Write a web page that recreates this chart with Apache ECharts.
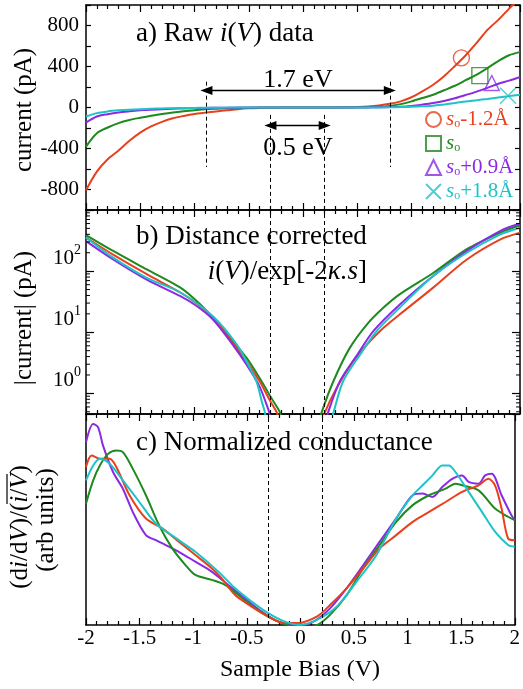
<!DOCTYPE html>
<html><head><meta charset="utf-8">
<script src="https://cdn.jsdelivr.net/npm/echarts@6/dist/echarts.min.js"></script>
<style>html,body{margin:0;padding:0;background:#fff}#c{width:523px;height:689px}</style>
</head><body><div id="c"></div>
<script>
const FONT = '"Liberation Serif","Times New Roman",serif';
const COL = {red:'#e8401c', green:'#1e8a1e', purple:'#8a2be2', cyan:'#1ec3c8'};

// ---------- panel a: raw i(V) ----------
const aV = [-2,-1.9,-1.8,-1.7,-1.6,-1.5,-1.4,-1.3,-1.2,-1.1,-1,-0.9,-0.8,-0.7,-0.6,-0.5,-0.4,-0.3,-0.2,-0.1,0,0.1,0.2,0.3,0.4,0.5,0.6,0.7,0.8,0.9,1,1.1,1.2,1.3,1.4,1.5,1.6,1.7,1.8,1.9,2];
const aRed    = [-807,-625,-505,-420,-325,-245,-185,-140,-105,-82,-63,-50,-38,-27,-16,-8,-4,-2,-1,0,0,0,0,1,2,5,10,20,36,60,100,158,222,305,405,510,630,757,855,965,1070];
const aGreen  = [-382,-251,-195,-152,-122,-100,-80,-63,-48,-36,-26,-17,-12,-8,-5,-3,-1,0,0,0,0,0,0,0,1,2,4,7,15,33,60,92,125,168,212,266,321,385,453,510,540];
const aPurple = [-147,-88,-65,-48,-37,-28,-21,-16,-12,-9,-6,-4,-3,-2,-1,0,0,0,0,0,0,0,0,0,0,0,1,2,4,7,15,28,43,63,90,122,155,192,232,262,298];
const aCyan   = [-88,-55,-38,-28,-21,-16,-12,-9,-7,-5,-4,-3,-2,-1,0,0,0,0,0,0,0,0,0,0,0,0,0,1,2,4,7,12,17,30,44,59,71,84,98,111,125];
const markerV = [1.46, 1.63, 1.74, 1.89];
const markerI = [484, 311, 239, 115];
const legendNames = ['s_o-1.2Å', 's_o', 's_o+0.9Å', 's_o+1.8Å'];
const legendSuffix = ['-1.2Å', '', '+0.9Å', '+1.8Å'];
// annotation positions (V) and heights (pA)
const gapOuter = [-0.89, 0.8];
const gapInner = [-0.3, 0.2];
const outerDashY = [252, -581];
const innerDashY = [-72, -1000];
const outerArrowY = 167;
const innerArrowY = -176;

// ---------- panel b: distance corrected |i| ----------
const bRedV    = [-2,-1.75,-1.44,-1.13,-0.98,-0.83,-0.67,-0.52,-0.40,-0.30,-0.24,-0.20, 0.17,0.20,0.31,0.46,0.59,0.74,0.89,1.2,1.51,1.82,2.0];
const bRed     = [355,186,89,44.7,29.5,17.4,7.6,3.3,1.58,0.74,0.48,0.3, 0.3,0.48,1.23,3.31,6.31,11.7,19.5,53.7,155,331,427];
const bGreenV  = [-2,-1.75,-1.44,-1.13,-0.98,-0.83,-0.67,-0.52,-0.40,-0.29,-0.21,-0.18, 0.14,0.17,0.28,0.43,0.59,0.74,0.89,1.2,1.51,1.82,2.0];
const bGreen   = [389,214,107,53.7,32.4,17.4,8.13,3.8,1.78,0.83,0.48,0.3, 0.3,0.48,1.58,5.5,13.5,25.1,41.7,93.3,229,427,562];
const bPurpleV = [-2,-1.75,-1.44,-1.13,-0.98,-0.83,-0.67,-0.52,-0.40,-0.335,-0.31,-0.29, 0.2,0.23,0.34,0.50,0.65,0.89,1.2,1.51,1.82,2.0];
const bPurple  = [309,155,72.4,38.9,26.9,16.2,7.1,2.95,1.29,0.65,0.48,0.3, 0.3,0.48,1.58,4.27,10.5,28.2,83.2,214,457,603];
const bCyanV   = [-2,-1.75,-1.44,-1.13,-0.83,-0.61,-0.52,-0.43,-0.38,-0.35,-0.33, 0.25,0.28,0.37,0.525,0.68,0.89,1.2,1.51,1.82,2.0];
const bCyan    = [355,166,77.6,44.7,18.2,6.3,3.3,1.58,0.74,0.48,0.3, 0.3,0.48,1.58,4.27,10.5,25.1,83.2,200,398,513];
const logMinor = [0.5,0.6,0.7,0.8,0.9,2,3,4,5,6,7,8,9,20,30,40,50,60,70,80,90,200,300,400,500,600,700,800,900];

// ---------- panel c: normalized conductance ----------
const cPurpleV = [-2,-1.933,-1.887,-1.841,-1.748,-1.656,-1.564,-1.441,-1.348,-1.256,-1.134,-0.98,-0.827,-0.673,-0.519,-0.366,-0.212,-0.058,0,0.126,0.279,0.433,0.587,0.740,0.894,1.048,1.140,1.232,1.324,1.417,1.509,1.570,1.662,1.724,1.785,1.877,1.969,2.0];
const cPurple  = [0.866,0.953,0.937,0.85,0.725,0.646,0.536,0.426,0.402,0.379,0.347,0.30,0.253,0.19,0.127,0.065,0.017,0.0,0.0,0.017,0.08,0.175,0.284,0.395,0.505,0.615,0.623,0.607,0.654,0.693,0.709,0.678,0.67,0.709,0.717,0.615,0.52,0.497];
const cRedV    = [-2,-1.947,-1.871,-1.779,-1.717,-1.594,-1.441,-1.288,-1.134,-0.98,-0.827,-0.735,-0.611,-0.458,-0.304,-0.150,-0.028,0.157,0.279,0.433,0.587,0.740,0.894,1.048,1.201,1.355,1.509,1.662,1.754,1.816,1.877,1.938,2.0];
const cRed     = [0.749,0.803,0.788,0.788,0.749,0.615,0.505,0.458,0.395,0.332,0.269,0.222,0.143,0.088,0.041,0.009,0.009,0.041,0.096,0.175,0.269,0.363,0.426,0.489,0.536,0.583,0.631,0.662,0.693,0.662,0.552,0.41,0.402];
const cGreenV  = [-2,-1.933,-1.871,-1.794,-1.717,-1.656,-1.564,-1.441,-1.318,-1.195,-1.072,-0.98,-0.827,-0.703,-0.581,-0.427,-0.274,-0.120,0,0.157,0.279,0.433,0.587,0.740,0.894,1.048,1.201,1.355,1.447,1.509,1.662,1.816,1.938,2.0];
const cGreen   = [0.575,0.685,0.756,0.811,0.827,0.819,0.741,0.615,0.473,0.363,0.284,0.237,0.214,0.19,0.143,0.08,0.033,0,-0.02,0,0.049,0.143,0.269,0.379,0.489,0.568,0.615,0.646,0.67,0.662,0.638,0.552,0.513,0.497];
const cCyanV   = [-2,-1.933,-1.871,-1.779,-1.656,-1.502,-1.348,-1.134,-0.98,-0.765,-0.611,-0.458,-0.304,-0.150,0,0.157,0.341,0.525,0.710,0.894,1.048,1.140,1.232,1.324,1.386,1.447,1.570,1.694,1.816,1.938,2.0];
const cCyan    = [0.685,0.756,0.788,0.764,0.685,0.583,0.481,0.402,0.347,0.253,0.175,0.112,0.057,0.017,0,0.025,0.088,0.206,0.332,0.505,0.615,0.662,0.709,0.756,0.756,0.725,0.631,0.536,0.442,0.379,0.371];

const xTicks = {min:-2, max:2, interval:0.5};

// ---------- build option ----------
const pair = (xs, ys) => xs.map((x, i) => [x, ys[i]]);
const black = '#000';
function xAxis(grid, pos, labels) {
  return {type:'value', gridIndex:grid, position:pos, min:xTicks.min, max:xTicks.max, interval:xTicks.interval,
    axisLine:{show:true, onZero:false, lineStyle:{color:black, width:1.5}},
    axisTick:{show:true, inside:true, length:7, lineStyle:{color:black, width:1.2}},
    minorTick:{show:true, splitNumber:5, length:4, lineStyle:{color:black, width:1.2}},
    splitLine:{show:false}, minorSplitLine:{show:false},
    axisLabel:{show:labels, color:black, fontFamily:FONT, fontSize:21, margin:3}};
}
function yLin(grid, pos, labels) {
  return {type:'value', gridIndex:grid, position:pos, min:-1000, max:1000, interval:200,
    axisLine:{show:true, onZero:false, lineStyle:{color:black, width:1.5}},
    axisTick:{show:true, inside:true, length:5, lineStyle:{color:black, width:1.2}},
    splitLine:{show:false},
    axisLabel:{show:labels, color:black, fontFamily:FONT, fontSize:21, margin:7,
      formatter: v => (v % 400 === 0 ? String(v) : '')}};
}
function yLog(grid, pos, labels) {
  return {type:'log', logBase:10, gridIndex:grid, position:pos, min:0.46, max:1000,
    axisLine:{show:true, onZero:false, lineStyle:{color:black, width:1.5}},
    axisTick:{show:true, inside:true, length:8, lineStyle:{color:black, width:1.2}},
    splitLine:{show:false},
    axisLabel:{show:labels, color:black, fontFamily:FONT, margin:5, verticalAlign:'bottom', padding:[0,0,2,0],
      formatter: v => {
        const e = Math.round(Math.log10(v));
        if (Math.abs(v - Math.pow(10, e)) > 1e-6 * Math.pow(10, e) || e < 0 || e > 2) return '';
        return '{b|10}{p|' + e + '}';
      },
      rich:{b:{fontFamily:FONT, fontSize:21, lineHeight:26, verticalAlign:'bottom', color:black},
            p:{fontFamily:FONT, fontSize:14, lineHeight:26, verticalAlign:'top', color:black}}}};
}
function yC(grid, pos) {
  return {type:'value', gridIndex:grid, position:pos, min:0, max:1,
    axisLine:{show:true, onZero:false, lineStyle:{color:black, width:1.5}},
    axisTick:{show:false}, splitLine:{show:false}, axisLabel:{show:false}};
}
function line(name, xi, yi, data, color, extra) {
  return Object.assign({name, type:'line', xAxisIndex:xi, yAxisIndex:yi, data, showSymbol:false, symbol:'none',
    smooth:0.3, clip:true, lineStyle:{color, width:2}, itemStyle:{color}, silent:true, z:3}, extra || {});
}
const dashStyle = {type:[4,3], color:black, width:1};
const names = ['red','green','purple','cyan'];
const symbols = ['circle','rect','triangle','path://M0,0L10,10M10,0L0,10'];

const series = [
  line('aRed', 0, 0, pair(aV, aRed), COL.red, {
    markLine:{silent:true, symbol:['none','none'], label:{show:false}, lineStyle:dashStyle, animation:false,
      data:[
        [{coord:[gapOuter[0], outerDashY[0]]},{coord:[gapOuter[0], outerDashY[1]]}],
        [{coord:[gapOuter[1], outerDashY[0]]},{coord:[gapOuter[1], outerDashY[1]]}],
        [{coord:[gapInner[0], innerDashY[0]]},{coord:[gapInner[0], innerDashY[1]]}],
        [{coord:[gapInner[1], innerDashY[0]]},{coord:[gapInner[1], innerDashY[1]]}],
        [{coord:[gapOuter[0], outerArrowY], symbol:'triangle', symbolSize:[9,12], lineStyle:{type:'solid', width:1.3, color:black}},
         {coord:[gapOuter[1], outerArrowY], symbol:'triangle', symbolSize:[9,12]}],
        [{coord:[gapInner[0], innerArrowY], symbol:'triangle', symbolSize:[9,12], lineStyle:{type:'solid', width:1.3, color:black}},
         {coord:[gapInner[1], innerArrowY], symbol:'triangle', symbolSize:[9,12]}]
      ]}}),
  line('aGreen', 0, 0, pair(aV, aGreen), COL.green),
  line('aPurple', 0, 0, pair(aV, aPurple), COL.purple),
  line('aCyan', 0, 0, pair(aV, aCyan), COL.cyan),
  line('bRed', 2, 2, pair(bRedV, bRed), COL.red, {
    markLine:{silent:true, symbol:['none','none'], label:{show:false}, lineStyle:dashStyle, animation:false,
      data:[{xAxis:gapInner[0]},{xAxis:gapInner[1]}]}}),
  line('bGreen', 2, 2, pair(bGreenV, bGreen), COL.green, {z:2}),
  line('bPurple', 2, 2, pair(bPurpleV, bPurple), COL.purple),
  line('bCyan', 2, 2, pair(bCyanV, bCyan), COL.cyan),
  {type:'custom', name:'minorLog', xAxisIndex:2, yAxisIndex:2, silent:true, clip:false, z:6,
    data: logMinor.map(v => [xTicks.min, v]), encode:{x:0, y:1},
    renderItem: (params, api) => {
      const v = api.value(1);
      const pL = api.coord([xTicks.min, v]);
      const pR = api.coord([xTicks.max, v]);
      return {type:'group', children:[
        {type:'line', shape:{x1:pL[0], y1:pL[1], x2:pL[0]+4, y2:pL[1]}, style:{stroke:black, lineWidth:1}},
        {type:'line', shape:{x1:pR[0]-4, y1:pR[1], x2:pR[0], y2:pR[1]}, style:{stroke:black, lineWidth:1}}]};
    }},
  line('cPurple', 4, 4, pair(cPurpleV, cPurple), COL.purple, {
    markLine:{silent:true, symbol:['none','none'], label:{show:false}, lineStyle:dashStyle, animation:false,
      data:[{xAxis:gapInner[0]},{xAxis:gapInner[1]}]}}),
  line('cGreen', 4, 4, pair(cGreenV, cGreen), COL.green),
  line('cRed', 4, 4, pair(cRedV, cRed), COL.red),
  line('cCyan', 4, 4, pair(cCyanV, cCyan), COL.cyan)
];
names.forEach((n, i) => {
  series.push({type:'scatter', name:legendNames[i], xAxisIndex:0, yAxisIndex:0, silent:true, z:4,
    data:[[markerV[i], markerI[i]]], symbol:symbols[i], symbolSize: i === 2 ? 15 : 16,
    itemStyle:{color:'rgba(0,0,0,0)', borderColor:COL[n], borderWidth:1.4}});
});

const legendRich = c => ({
  s:{fontFamily:FONT, fontStyle:'italic', fontSize:21, color:c, lineHeight:20},
  o:{fontFamily:FONT, fontSize:12, color:c, verticalAlign:'bottom', lineHeight:12},
  t:{fontFamily:FONT, fontSize:21, color:c, lineHeight:20}
});

const option = {
  animation:false,
  backgroundColor:'#fff',
  grid:[
    {left:86, right:3, top:5, height:205},
    {left:86, right:3, top:210, height:204},
    {left:86, right:3, top:414, height:211}
  ],
  xAxis:[xAxis(0,'bottom',false), xAxis(0,'top',false), xAxis(1,'bottom',false), xAxis(1,'top',false), xAxis(2,'bottom',true), xAxis(2,'top',false)],
  yAxis:[yLin(0,'left',true), yLin(0,'right',false), yLog(1,'left',true), yLog(1,'right',false), yC(2,'left'), yC(2,'right')],
  legend:{orient:'vertical', left:420, top:104, itemWidth:15, itemHeight:15, itemGap:3, selectedMode:false,
    data: legendNames.map((nm, i) => ({name:nm, textStyle:{color:COL[names[i]], rich:legendRich(COL[names[i]])}})),
    formatter: nm => { const i = legendNames.indexOf(nm); return '{s|s}{o|o}' + (legendSuffix[i] ? '{t|' + legendSuffix[i] + '}' : ''); },
    textStyle:{fontFamily:FONT, fontSize:21}},
  series,
  graphic:[
    {type:'text', x:136, y:34, style:{text:'a) Raw {i|i}({i|V}) data', font:'27px ' + FONT, fill:black, verticalAlign:'middle',
      rich:{i:{fontFamily:FONT, fontStyle:'italic', fontSize:27}}}},
    {type:'text', x:298, y:80, style:{text:'1.7 eV', font:'26px ' + FONT, fill:black, align:'center', verticalAlign:'middle'}},
    {type:'text', x:298, y:148, style:{text:'0.5 eV', font:'26px ' + FONT, fill:black, align:'center', verticalAlign:'middle'}},
    {type:'text', x:136, y:237, style:{text:'b) Distance corrected', font:'27px ' + FONT, fill:black, verticalAlign:'middle'}},
    {type:'text', x:367, y:272, style:{text:'{i|i}({i|V})/exp[-2{i|κ.s}]', font:'27px ' + FONT, fill:black, align:'right', verticalAlign:'middle',
      rich:{i:{fontFamily:FONT, fontStyle:'italic', fontSize:27}}}},
    {type:'text', x:136, y:443, style:{text:'c) Normalized conductance', font:'27px ' + FONT, fill:black, verticalAlign:'middle'}},
    {type:'text', x:24, y:110, rotation:Math.PI/2, style:{text:'current (pA)', font:'25px ' + FONT, fill:black, align:'center', verticalAlign:'middle'}},
    {type:'text', x:24, y:318, rotation:Math.PI/2, style:{text:'|current| (pA)', font:'25px ' + FONT, fill:black, align:'center', verticalAlign:'middle'}},
    {type:'group', x:20, y:527, rotation:Math.PI/2, children:[
      {type:'text', style:{text:'(d{i|i}/d{i|V})/({i|i}/{i|V})', font:'25px ' + FONT, fill:black, align:'center', verticalAlign:'middle',
        rich:{i:{fontFamily:FONT, fontStyle:'italic', fontSize:25}}}},
      {type:'line', shape:{x1:23, y1:-13, x2:53, y2:-13}, style:{stroke:black, lineWidth:1.2}}
    ]},
    {type:'text', x:46, y:520, rotation:Math.PI/2, style:{text:'(arb units)', font:'25px ' + FONT, fill:black, align:'center', verticalAlign:'middle'}},
    {type:'text', x:300, y:670, style:{text:'Sample Bias (V)', font:'24px ' + FONT, fill:black, align:'center', verticalAlign:'middle'}}
  ]
};
const chart = echarts.init(document.getElementById('c'));
chart.setOption(option);
</script></body></html>
